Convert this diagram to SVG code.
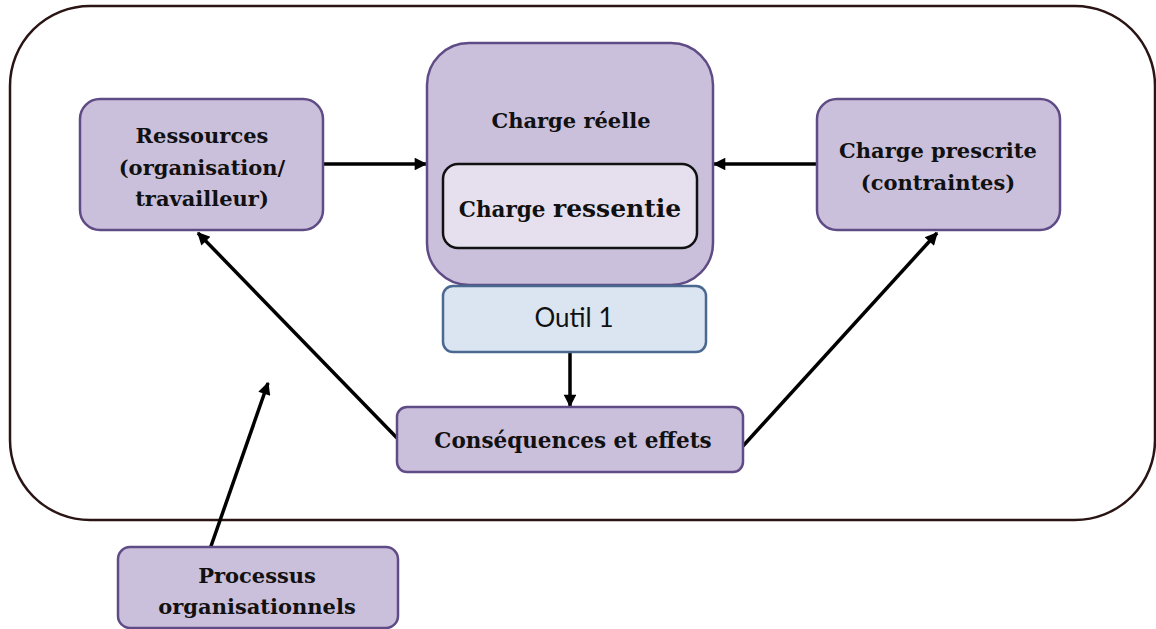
<svg xmlns="http://www.w3.org/2000/svg" width="1156" height="629" viewBox="0 0 1156 629">
<defs>
<marker id="ah" viewBox="0 0 10 10" refX="9" refY="5" markerWidth="4" markerHeight="3.6" orient="auto" markerUnits="strokeWidth">
<path d="M0,0 L10,5 L0,10 z" fill="#000"/>
</marker>
<style>
.box{fill:#cbc0db;stroke:#5f4b85;stroke-width:2.5}
.inner{fill:#e6e0ee;stroke:#111;stroke-width:2.5}
.tool{fill:#dbe5f1;stroke:#4a6890;stroke-width:2.5}
.t{font-family:"DejaVu Serif",serif;font-weight:bold;font-size:21px;fill:#111;text-anchor:middle}
.s{font-family:Lato,"Liberation Sans",sans-serif;font-size:26px;fill:#111;text-anchor:middle}
.c{fill:none;stroke:#000;stroke-width:3.5;marker-end:url(#ah)}
</style>
</defs>
<rect width="1156" height="629" fill="#fff"/>
<rect id="frame" x="10" y="6" width="1145" height="514" rx="80" ry="80" fill="none" stroke="#2a1414" stroke-width="2.5"/>
<g id="connectors">
<line class="c" x1="323" y1="164" x2="426" y2="164"/>
<line class="c" x1="817" y1="164" x2="714" y2="164"/>
<line class="c" x1="570" y1="352" x2="570" y2="406"/>
<line class="c" x1="397" y1="438" x2="198" y2="233"/>
<line class="c" x1="743" y1="446" x2="937" y2="233"/>
<line class="c" x1="210" y1="549" x2="268" y2="383"/>
</g>
<g id="ressources">
<rect class="box" x="80" y="99" width="243" height="131" rx="20"/>
<text class="t" x="202" y="143">Ressources</text>
<text class="t" x="202" y="175">(organisation/</text>
<text class="t" x="202" y="206">travailleur)</text>
</g>
<g id="charge-reelle">
<rect class="box" x="427" y="43" width="286" height="242" rx="42"/>
<text class="t" x="571" y="128">Charge réelle</text>
</g>
<g id="charge-ressentie">
<rect class="inner" x="443" y="164" width="254" height="84" rx="15"/>
<text class="t" x="570" y="217" style="font-size:21.5px">Charge <tspan style="font-size:25px">ressentie</tspan></text>
</g>
<g id="outil">
<rect class="tool" x="443" y="286" width="263" height="66" rx="10"/>
<text class="s" x="574" y="327">Outil 1</text>
</g>
<g id="charge-prescrite">
<rect class="box" x="817" y="99" width="243" height="131" rx="20"/>
<text class="t" x="938" y="158">Charge prescrite</text>
<text class="t" x="938" y="190">(contraintes)</text>
</g>
<g id="consequences">
<rect class="box" x="397" y="407" width="346" height="65" rx="10"/>
<text class="t" x="573" y="448" style="font-size:21.5px">Conséquences et effets</text>
</g>
<g id="processus">
<rect class="box" x="118" y="547" width="280" height="81" rx="12"/>
<text class="t" x="257" y="583">Processus</text>
<text class="t" x="257" y="614">organisationnels</text>
</g>
</svg>
